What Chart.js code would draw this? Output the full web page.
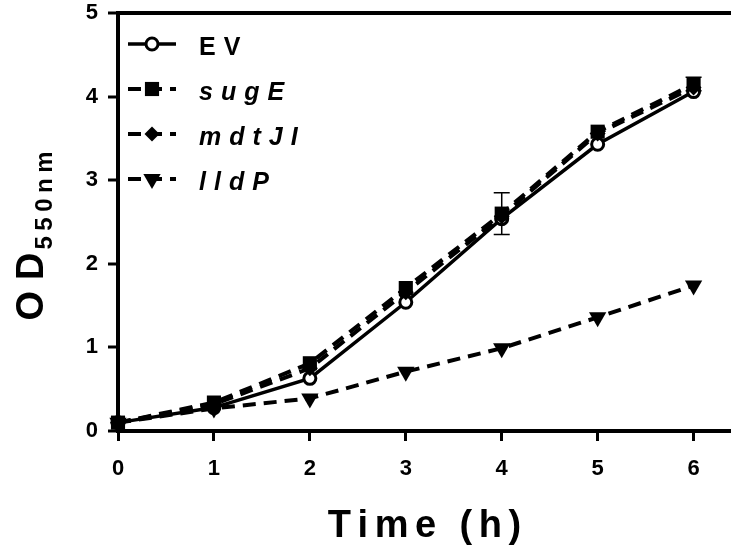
<!DOCTYPE html>
<html>
<head>
<meta charset="utf-8">
<script src="https://cdn.jsdelivr.net/npm/chart.js@4.4.1/dist/chart.umd.min.js"></script>
<style>
  html, body { margin: 0; padding: 0; background: #fff; }
</style>
</head>
<body>
<canvas id="growth-chart" width="731" height="550"></canvas>
<script>
// Growth curve data
const times = [0, 1, 2, 3, 4, 5, 6];
const seriesNames = ['EV', 'sugE', 'mdtJI', 'lldP'];
const evValues = [0.10, 0.28, 0.63, 1.54, 2.54, 3.43, 4.06];
const sugEValues = [0.10, 0.34, 0.81, 1.71, 2.60, 3.58, 4.15];
const mdtJIValues = [0.10, 0.32, 0.75, 1.66, 2.57, 3.56, 4.11];
const lldPValues = [0.10, 0.27, 0.39, 0.71, 0.99, 1.36, 1.74];
const sugEErrors = [0, 0, 0, 0, 0.25, 0, 0.08];
const xTicks = [0, 1, 2, 3, 4, 5, 6];
const yTicks = [0, 1, 2, 3, 4, 5];
const xTitle = 'Time (h)';
const yTitleMain = 'OD';
const yTitleSub = '550nm';

const FONT = '"Liberation Sans", Arial, Helvetica, sans-serif';
const canvas = document.querySelector('#growth-chart');

function toPoints(values) {
    return times.map((t, i) => ({ x: t, y: values[i] }));
}

// draw a string char by char with extra spacing
function spacedWidth(ctx, str, spacing) {
    let w = 0;
    for (const ch of str) w += ctx.measureText(ch).width + spacing;
    return w - spacing;
}
function drawSpaced(ctx, str, x, y, spacing) {
    for (const ch of str) {
        ctx.fillText(ch, x, y);
        x += ctx.measureText(ch).width + spacing;
    }
    return x;
}

const growthData = {
    datasets: [
        {
            label: seriesNames[0],
            data: toPoints(evValues),
            borderColor: '#000',
            borderWidth: 3.5,
            pointStyle: 'circle',
            pointRadius: 6,
            pointBorderWidth: 3,
            pointBackgroundColor: '#fff',
            pointBorderColor: '#000',
            order: 4,
            clip: false,
            italic: false
        },
        {
            label: seriesNames[1],
            data: toPoints(sugEValues),
            borderColor: '#000',
            borderWidth: 4,
            borderDash: [13, 8],
            pointStyle: 'rect',
            pointRadius: 10,
            pointBorderWidth: 0,
            pointBackgroundColor: '#000',
            order: 3,
            clip: false,
            italic: true
        },
        {
            label: seriesNames[2],
            data: toPoints(mdtJIValues),
            borderColor: '#000',
            borderWidth: 4,
            borderDash: [13, 8],
            pointStyle: 'rectRot',
            pointRadius: 8,
            pointBorderWidth: 0,
            pointBackgroundColor: '#000',
            order: 2,
            clip: false,
            italic: true
        },
        {
            label: seriesNames[3],
            data: toPoints(lldPValues),
            borderColor: '#000',
            borderWidth: 4,
            borderDash: [13, 8],
            pointStyle: 'triangle',
            pointRotation: 180,
            pointRadius: 10,
            pointBorderWidth: 0,
            pointBackgroundColor: '#000',
            order: 1,
            clip: false,
            italic: true
        }
    ]
};

// error bars under the markers
const errorBars = {
    id: 'errorBars',
    beforeDatasetsDraw(chart) {
        const ctx = chart.ctx;
        const x = chart.scales.x;
        const y = chart.scales.y;
        ctx.save();
        ctx.strokeStyle = '#000';
        ctx.lineWidth = 1.5;
        sugEErrors.forEach((e, i) => {
            if (!e) return;
            const px = x.getPixelForValue(times[i]);
            const top = y.getPixelForValue(sugEValues[i] + e);
            const bot = y.getPixelForValue(sugEValues[i] - e);
            ctx.beginPath();
            ctx.moveTo(px, top); ctx.lineTo(px, bot);
            ctx.moveTo(px - 8, top); ctx.lineTo(px + 8, top);
            ctx.moveTo(px - 8, bot); ctx.lineTo(px + 8, bot);
            ctx.stroke();
        });
        ctx.restore();
    }
};

// legend inside the plot, GraphPad style
const insideLegend = {
    id: 'insideLegend',
    afterDraw(chart) {
        const ctx = chart.ctx;
        chart.data.datasets.forEach((ds, i) => {
            const rowY = 44 + i * 45;
            ctx.save();
            ctx.strokeStyle = '#000';
            ctx.lineWidth = ds.borderWidth;
            ctx.setLineDash(ds.borderDash || []);
            ctx.beginPath();
            ctx.moveTo(128, rowY);
            ctx.lineTo(176, rowY);
            ctx.stroke();
            ctx.setLineDash([]);
            ctx.fillStyle = ds.pointBackgroundColor;
            ctx.strokeStyle = '#000';
            ctx.lineWidth = ds.pointBorderWidth;
            Chart.helpers.drawPoint(ctx, {
                pointStyle: ds.pointStyle,
                rotation: ds.pointRotation || 0,
                radius: ds.pointStyle === 'rectRot' ? 7.5 : ds.pointRadius,
                borderWidth: ds.pointBorderWidth
            }, 152, rowY);
            ctx.fillStyle = '#000';
            ctx.font = `${ds.italic ? 'italic ' : ''}bold 25px ${FONT}`;
            ctx.textBaseline = 'alphabetic';
            drawSpaced(ctx, ds.label, 199, rowY + 11, 8);
            ctx.restore();
        });
    }
};

// spaced axis titles with subscript
const axisTitles = {
    id: 'axisTitles',
    afterDraw(chart) {
        const ctx = chart.ctx;
        const area = chart.chartArea;
        ctx.save();
        ctx.fillStyle = '#000';
        ctx.textBaseline = 'alphabetic';
        ctx.font = `bold 38px ${FONT}`;
        const xw = spacedWidth(ctx, xTitle, 6.5);
        drawSpaced(ctx, xTitle, (area.left + area.right) / 2 - xw / 2, 537, 6.5);

        // rotated y title: OD + subscript 550nm
        const mainW = spacedWidth(ctx, yTitleMain, 11);
        ctx.font = `bold 24px ${FONT}`;
        const subW = spacedWidth(ctx, yTitleSub, 5.5);
        const total = mainW + 3 + subW;
        const centerY = (area.top + area.bottom) / 2 + 14;
        ctx.translate(43, centerY + total / 2);
        ctx.rotate(-Math.PI / 2);
        ctx.font = `bold 38px ${FONT}`;
        drawSpaced(ctx, yTitleMain, 0, 0, 11);
        ctx.font = `bold 24px ${FONT}`;
        drawSpaced(ctx, yTitleSub, mainW + 3, 9, 5.5);
        ctx.restore();
    }
};

const tickFont = { family: FONT, size: 22, weight: 'bold' };

const growthOptions = {
    responsive: false,
    animation: false,
    layout: { autoPadding: false, padding: { top: 13, right: 0, bottom: 0, left: 0 } },
    plugins: {
        legend: { display: false },
        tooltip: { enabled: false }
    },
    elements: { line: { tension: 0 } },
    scales: {
        x: {
            type: 'linear',
            min: 0,
            max: 6.39,
            afterBuildTicks: s => { s.ticks = xTicks.map(v => ({ value: v })); },
            afterFit: s => { s.height = 119; s.paddingLeft = 0; s.paddingRight = 0; },
            border: { color: '#000', width: 4 },
            grid: { drawOnChartArea: false, tickLength: 10, tickWidth: 3, tickColor: '#000' },
            ticks: { color: '#000', font: tickFont, padding: 15, maxRotation: 0, includeBounds: false }
        },
        y: {
            min: 0,
            max: 5,
            afterBuildTicks: s => { s.ticks = yTicks.map(v => ({ value: v })); },
            afterFit: s => { s.width = 118; s.paddingTop = 0; s.paddingBottom = 0; },
            border: { color: '#000', width: 4 },
            grid: {
                color: c => (c.tick && c.tick.value === 5 ? '#000' : 'rgba(0,0,0,0)'),
                lineWidth: 4,
                tickLength: 10,
                tickWidth: 3,
                tickColor: '#000'
            },
            ticks: { color: '#000', font: tickFont, padding: 10 }
        }
    }
};

new Chart(canvas, {
    type: 'line',
    data: growthData,
    options: growthOptions,
    plugins: [errorBars, insideLegend, axisTitles]
});
</script>
</body>
</html>
